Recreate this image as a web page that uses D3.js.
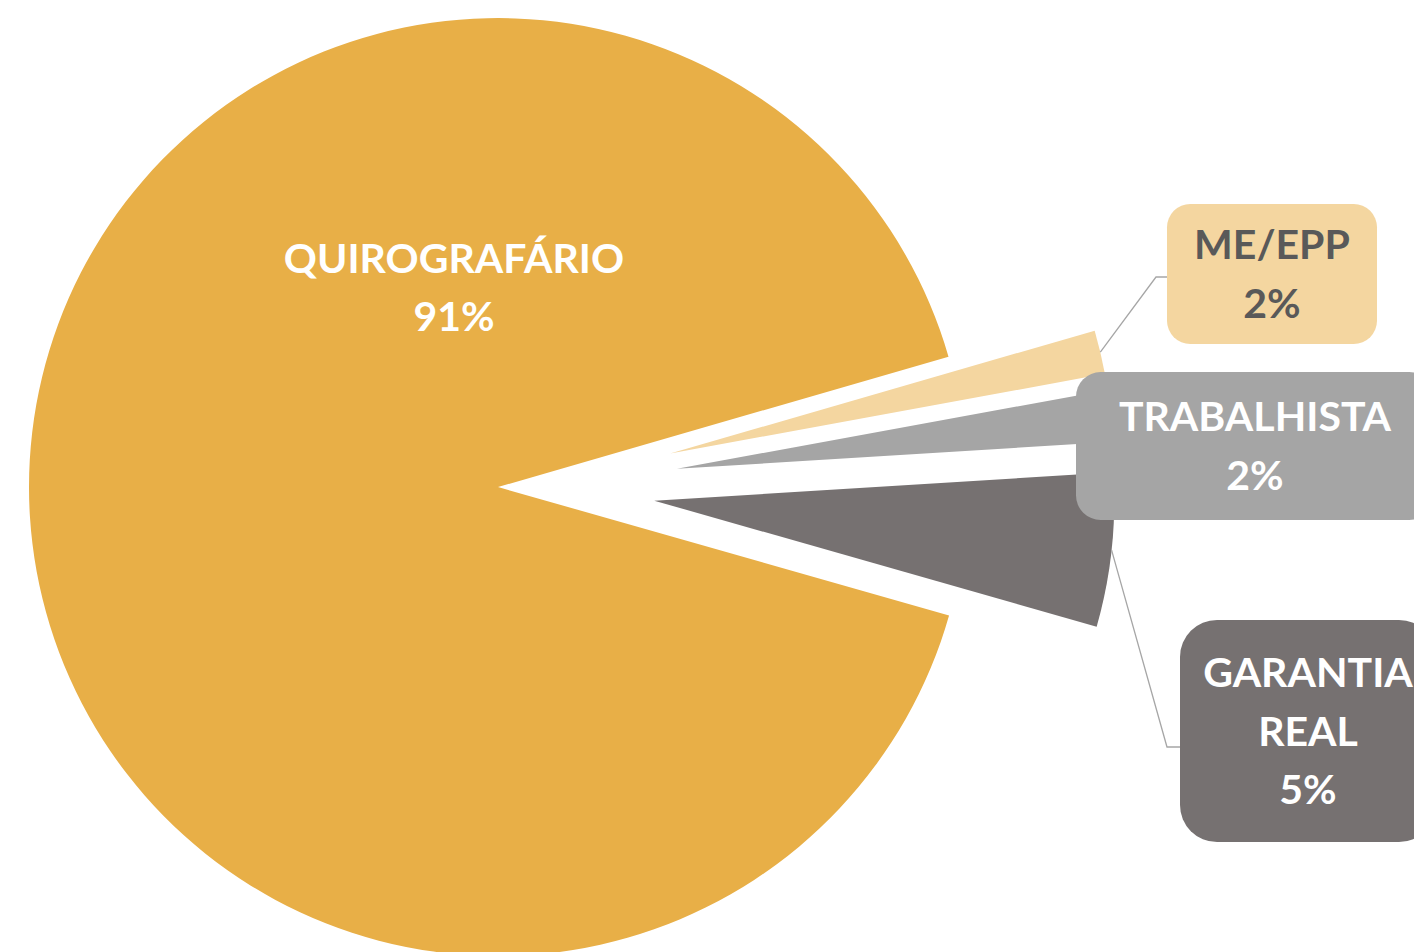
<!DOCTYPE html>
<html lang="pt">
<head>
<meta charset="UTF-8">
<title>Classes de credores</title>
<script src="https://cdn.jsdelivr.net/npm/d3@7"></script>
<style>
  body { margin: 0; background: #fff; }
  svg { display: block; }
  text { font-family: Lato, "Open Sans", sans-serif; font-weight: 700; }
</style>
</head>
<body>
<script>
// data
const categories = ["QUIROGRAFÁRIO", "ME/EPP", "TRABALHISTA", "GARANTIA REAL"];
const values = [91.1, 1.6, 1.9, 5.4];
const labelLines = [["QUIROGRAFÁRIO"], ["ME/EPP"], ["TRABALHISTA"], ["GARANTIA", "REAL"]];
const colors = ["#E8AF47", "#F4D6A0", "#A5A5A5", "#767171"];
const textColors = ["#ffffff", "#595959", "#ffffff", "#ffffff"];

// layout
const w = 1414, h = 952;
const cx = 528, cy = 487;
const radius = [469, 442, 442, 460];
const explode = [30, 146, 150, 127];
const startDeg = 105.9;
const fontSize = 41, lineH = 58.5, capH = fontSize * 0.7165;
const boxes = [
  null,
  {x: 1167, y: 204, w: 210, h: 140},
  {x: 1076, y: 372, w: 358, h: 148},
  {x: 1180, y: 620, w: 256, h: 222}
];
const labelCenter = [[454, 287.5], null, null, null];
const elbows = [null, [[1156, 277], [1167, 277]], null, [[1167, 747], [1180, 747]]];

const svg = d3.select("body").append("svg")
  .attr("width", w)
  .attr("height", h);

const start = startDeg * Math.PI / 180;
const pie = d3.pie().sort(null).value(d => d)
  .startAngle(start).endAngle(start + 2 * Math.PI);
const arcs = pie(values);

const arc = d3.arc().innerRadius(0).outerRadius(d => radius[d.index]);

function offset(d) {
  const a = (d.startAngle + d.endAngle) / 2;
  return [cx + Math.sin(a) * explode[d.index], cy - Math.cos(a) * explode[d.index]];
}

svg.selectAll("path.slice")
  .data(arcs)
  .enter()
  .append("path")
  .attr("class", "slice")
  .attr("d", arc)
  .attr("fill", (d, i) => colors[i])
  .attr("transform", d => "translate(" + offset(d) + ")");

// leader lines
arcs.forEach((d, i) => {
  if (!elbows[i]) return;
  const o = offset(d);
  const edge = d3.arc().innerRadius(radius[i]).outerRadius(radius[i]).centroid(d);
  const pts = [[o[0] + edge[0], o[1] + edge[1]]].concat(elbows[i]);
  svg.append("path")
    .attr("d", d3.line()(pts))
    .attr("fill", "none")
    .attr("stroke", "#A6A6A6")
    .attr("stroke-width", 1.3);
});

// label boxes and texts
arcs.forEach((d, i) => {
  let c;
  const b = boxes[i];
  if (b) {
    const r = Math.min(b.w, b.h) * 0.1667;
    svg.append("rect")
      .attr("x", b.x).attr("y", b.y)
      .attr("width", b.w).attr("height", b.h)
      .attr("rx", r).attr("ry", r)
      .attr("fill", colors[i]);
    c = [b.x + b.w / 2, b.y + b.h / 2];
  } else {
    c = labelCenter[i];
  }
  const lines = labelLines[i].concat([Math.round(values[i]) + "%"]);
  const n = lines.length;
  const t = svg.append("text")
    .attr("text-anchor", "middle")
    .attr("font-size", fontSize)
    .attr("fill", textColors[i]);
  lines.forEach((s, k) => {
    t.append("tspan")
      .attr("x", c[0])
      .attr("y", c[1] + capH / 2 + (k - (n - 1) / 2) * lineH)
      .text(s);
  });
});
</script>
</body>
</html>
